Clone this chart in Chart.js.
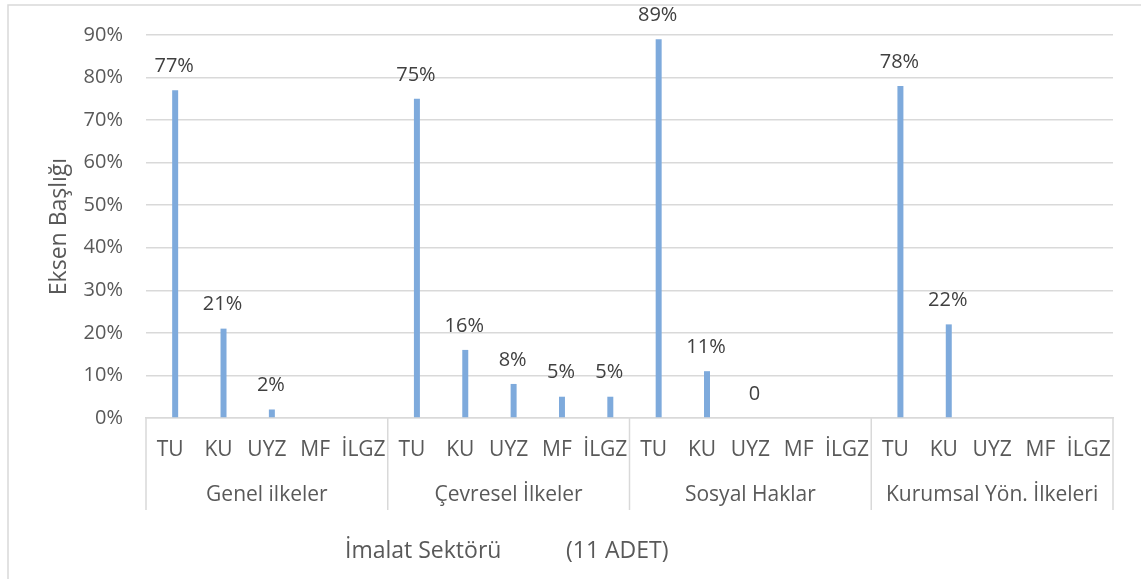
<!DOCTYPE html>
<html>
<head>
<meta charset="utf-8">
<script src="https://cdn.jsdelivr.net/npm/chart.js@4.4.1/dist/chart.umd.min.js"></script>
<style>
  html, body { margin: 0; padding: 0; background: #fff; overflow: hidden; }
  canvas { display: block; }
</style>
</head>
<body>
<canvas id="chart" width="1141" height="579"></canvas>
<script>
// Principle groups and the sub-items shown under each one
const groups = ['Genel ilkeler', 'Çevresel İlkeler', 'Sosyal Haklar', 'Kurumsal Yön. İlkeleri'];
const subCategories = ['TU', 'KU', 'UYZ', 'MF', 'İLGZ'];

// Shares (%) per group, in the order of subCategories
const genelValues    = [77, 21, 2, 0, 0];
const cevreselValues = [75, 16, 8, 5, 5];
const sosyalValues   = [89, 11, 0, 0, 0];
const kurumsalValues = [78, 22, 0, 0, 0];

// Value labels printed above the bars (null = no label)
const genelLabels    = ['77%', '21%', '2%', null, null];
const cevreselLabels = ['75%', '16%', '8%', '5%', '5%'];
const sosyalLabels   = ['89%', '11%', '0', null, null];
const kurumsalLabels = ['78%', '22%', null, null, null];

// Value axis ticks
const yTickValues = [0, 10, 20, 30, 40, 50, 60, 70, 80, 90];

const yAxisTitle = 'Eksen Başlığı';
const xAxisTitleParts = ['İmalat Sektörü', '(11 ADET)'];

// Flattened series built from the arrays above
const categoryLabels = groups.flatMap(() => subCategories);
const values = [...genelValues, ...cevreselValues, ...sosyalValues, ...kurumsalValues];
const valueLabels = [...genelLabels, ...cevreselLabels, ...sosyalLabels, ...kurumsalLabels];

const FONT = '"Open Sans", "Liberation Sans", sans-serif';
const TEXT = '#595959';
const DARK_TEXT = '#404040';
const LINE = '#d9d9d9';
const BAR = '#7eaadc';

// White background plus the outer chart frame
const framePlugin = {
  id: 'frame',
  beforeDraw(chart) {
    const { ctx, width, height } = chart;
    ctx.save();
    ctx.fillStyle = '#fff';
    ctx.fillRect(0, 0, width, height);
    ctx.strokeStyle = LINE;
    ctx.lineWidth = 1.5;
    ctx.beginPath();
    ctx.moveTo(8, height + 2);
    ctx.lineTo(8, 5);
    ctx.lineTo(width + 2, 5);
    ctx.stroke();
    ctx.restore();
  }
};

// Second level of the category axis: dividers and group names, plus the axis title
const groupAxisPlugin = {
  id: 'groupAxis',
  afterDraw(chart) {
    const { ctx } = chart;
    const xs = chart.scales.x;
    const cw = (xs.right - xs.left) / categoryLabels.length;
    const n = subCategories.length;
    const top = chart.chartArea.bottom;
    ctx.save();
    ctx.strokeStyle = LINE;
    ctx.lineWidth = 1.5;
    for (let g = 0; g <= groups.length; g++) {
      const x = xs.left + g * n * cw;
      ctx.beginPath();
      ctx.moveTo(x, top);
      ctx.lineTo(x, 510);
      ctx.stroke();
    }
    ctx.fillStyle = TEXT;
    ctx.font = '21px ' + FONT;
    ctx.textAlign = 'center';
    ctx.textBaseline = 'middle';
    groups.forEach((name, g) => {
      const cx = xs.left + (g + 0.5) * n * cw;
      ctx.fillText(name, cx, 495);
    });
    ctx.font = '23px ' + FONT;
    ctx.textAlign = 'left';
    ctx.fillText(xAxisTitleParts[0], 345, 551);
    ctx.fillText(xAxisTitleParts[1], 566, 551);
    ctx.restore();
  }
};

// Value labels above each bar
const valueLabelPlugin = {
  id: 'valueLabels',
  afterDatasetsDraw(chart) {
    const { ctx } = chart;
    const meta = chart.getDatasetMeta(1);
    ctx.save();
    ctx.fillStyle = DARK_TEXT;
    ctx.font = '20px ' + FONT;
    ctx.textAlign = 'center';
    ctx.textBaseline = 'middle';
    meta.data.forEach((bar, i) => {
      const label = valueLabels[i];
      if (label == null) return;
      ctx.fillText(label, bar.x - 1, bar.y - 24);
    });
    ctx.restore();
  }
};

new Chart(document.getElementById('chart'), {
  type: 'bar',
  data: {
    labels: categoryLabels,
    datasets: [
      // empty companion series occupying the first slot of each category
      { data: categoryLabels.map(() => null), backgroundColor: 'rgba(0,0,0,0)' },
      { data: values, backgroundColor: BAR, borderWidth: 0 }
    ]
  },
  options: {
    responsive: false,
    animation: false,
    devicePixelRatio: 1,
    layout: { padding: { top: 33, right: 28, bottom: 0, left: 0 } },
    datasets: { bar: { categoryPercentage: 0.413, barPercentage: 0.6 } },
    plugins: { legend: { display: false }, tooltip: { enabled: false } },
    scales: {
      x: {
        grid: { display: false, drawTicks: false },
        border: { display: true, color: LINE, width: 1.5 },
        ticks: {
          color: TEXT,
          font: { family: FONT, size: 21 },
          padding: 19,
          autoSkip: false,
          maxRotation: 0,
          minRotation: 0
        },
        afterFit(scale) { scale.height = 161; }
      },
      y: {
        min: 0,
        max: 90,
        afterBuildTicks(scale) { scale.ticks = yTickValues.map(v => ({ value: v })); },
        ticks: {
          callback: v => v + '%',
          color: TEXT,
          font: { family: FONT, size: 20 },
          padding: 23
        },
        grid: { color: LINE, lineWidth: 1.5, drawTicks: false },
        border: { display: false },
        title: {
          display: true,
          text: yAxisTitle,
          color: TEXT,
          font: { family: FONT, size: 23 },
          padding: { top: 46, bottom: 0 }
        },
        afterFit(scale) { scale.width = 146; }
      }
    }
  },
  plugins: [framePlugin, groupAxisPlugin, valueLabelPlugin]
});
</script>
</body>
</html>
